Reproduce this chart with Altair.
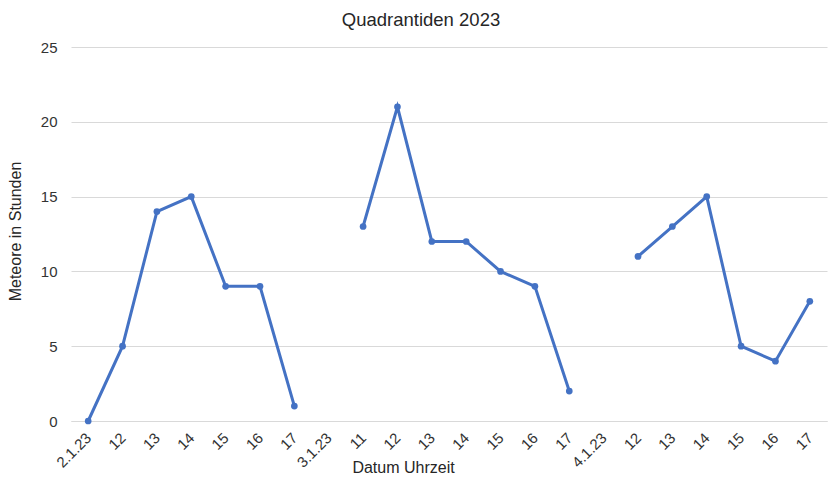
import altair as alt
import pandas as pd

labels = ["2.1.23", "12", "13", "14", "15", "16", "17",
          "3.1.23", "11", "12", "13", "14", "15", "16", "17",
          "4.1.23", "12", "13", "14", "15", "16", "17"]
values = [0, 5, 14, 15, 9, 9, 1,
          None, 13, 21, 12, 12, 10, 9, 2,
          None, 11, 13, 15, 5, 4, 8]
segments = [1, 1, 1, 1, 1, 1, 1,
            0, 2, 2, 2, 2, 2, 2, 2,
            0, 3, 3, 3, 3, 3, 3]

df = pd.DataFrame({"idx": list(range(len(labels))), "label": labels,
                   "value": values, "seg": segments})
df_valid = df[df["value"].notna()]

label_js = "[" + ",".join('"%s"' % l for l in labels) + "]"

x = alt.X("idx:O", scale=alt.Scale(domain=list(range(len(labels))), padding=0.5),
          axis=alt.Axis(title="Datum Uhrzeit", labelExpr=label_js + "[datum.value]",
                        labelAngle=-45, labelAlign="right", labelBaseline="middle",
                        labelPadding=14, ticks=False, domainColor="#d9d9d9", domainWidth=1,
                        labelFont="Liberation Sans", labelFontSize=15, labelColor="#333333",
                        titleFont="Liberation Sans", titleFontSize=16, titleFontWeight="normal",
                        titleColor="#262626", titleX=332, titleY=46, titleAnchor="middle",
                        titleBaseline="middle"))
y = alt.Y("value:Q", scale=alt.Scale(domain=[0, 25], nice=False),
          axis=alt.Axis(title="Meteore in Stunden", values=[0, 5, 10, 15, 20, 25],
                        domain=False, ticks=False, labelPadding=14, gridColor="#d9d9d9",
                        labelFont="Liberation Sans", labelFontSize=15, labelColor="#333333",
                        titleFont="Liberation Sans", titleFontSize=16, titleFontWeight="normal",
                        titleColor="#262626", titleX=-56, titleY=184, titleBaseline="middle"))

line = alt.Chart(df_valid).mark_line(color="#4472C4", strokeWidth=3).encode(
    x=x, y=y, detail="seg:N")
pts = alt.Chart(df_valid).mark_point(color="#4472C4", filled=True, size=45, opacity=1).encode(
    x=x, y=y)

chart = (line + pts).properties(
    width=756, height=374,
    autosize=alt.AutoSizeParams(type="none"),
    padding={"left": 63, "top": 39, "right": 2, "bottom": 58},
    title=alt.TitleParams("Quadrantiden 2023", font="Liberation Sans", fontSize=18.5,
                          fontWeight="normal", color="#262626", dx=-28, offset=11),
).configure_view(stroke=None)

chart.save("out.html", embed_options={"renderer": "svg", "actions": False})
